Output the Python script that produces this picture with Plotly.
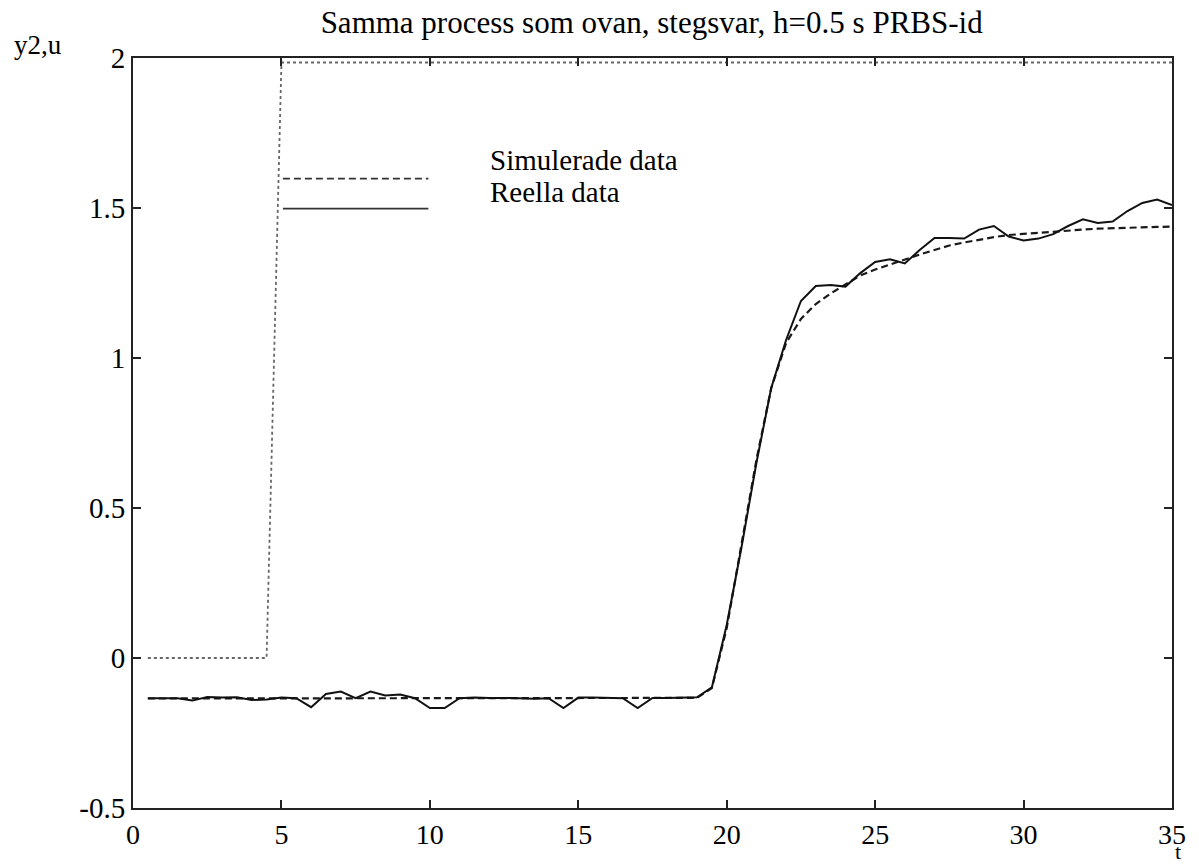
import plotly.graph_objects as go

# Sample times, h = 0.5 s
t = [0.5 * k for k in range(1, 71)]

# Input step u (dotted)
u_t = [0.5, 1.0, 1.5, 2.0, 2.5, 3.0, 3.5, 4.0, 4.5, 5.0, 35.0]
u_val = [0, 0, 0, 0, 0, 0, 0, 0, 0, 1.985, 1.985]

# Measured output (Reella data)
y_real = [
    -0.134, -0.134, -0.134, -0.142, -0.130, -0.132, -0.131, -0.140, -0.138, -0.132,
    -0.134, -0.164, -0.120, -0.112, -0.134, -0.112, -0.125, -0.122, -0.134, -0.167,
    -0.167, -0.134, -0.132, -0.133, -0.133, -0.134, -0.136, -0.134, -0.167, -0.132,
    -0.132, -0.133, -0.134, -0.167, -0.133, -0.133, -0.133, -0.131, -0.098, 0.11,
    0.37, 0.65, 0.90, 1.06, 1.19, 1.24, 1.243, 1.238, 1.283, 1.320,
    1.329, 1.315, 1.360, 1.400, 1.400, 1.398, 1.428, 1.440, 1.405, 1.392,
    1.398, 1.413, 1.440, 1.462, 1.450, 1.455, 1.490, 1.517, 1.528, 1.510,
]

# Simulated output from the identified model (Simulerade data)
y_sim = [
    -0.135, -0.135, -0.135, -0.135, -0.135, -0.135, -0.135, -0.135, -0.135, -0.135,
    -0.135, -0.135, -0.135, -0.135, -0.135, -0.135, -0.135, -0.135, -0.135, -0.135,
    -0.135, -0.135, -0.135, -0.135, -0.135, -0.135, -0.135, -0.135, -0.135, -0.135,
    -0.135, -0.135, -0.135, -0.135, -0.135, -0.135, -0.135, -0.133, -0.100, 0.10,
    0.38, 0.66, 0.90, 1.05, 1.13, 1.18, 1.215, 1.245, 1.275, 1.295,
    1.312, 1.330, 1.345, 1.360, 1.375, 1.385, 1.395, 1.403, 1.410, 1.414,
    1.418, 1.422, 1.425, 1.428, 1.431, 1.433, 1.435, 1.436, 1.437, 1.438,
]

x_ticks = [0, 5, 10, 15, 20, 25, 30, 35]
y_ticks = [-0.5, 0, 0.5, 1, 1.5, 2]
y_tick_text = ["-0.5", "0", "0.5", "1", "1.5", "2"]

legend_names = ["Simulerade data", "Reella data"]

FONT = "Liberation Serif"
INK = "#000000"

fig = go.Figure()
fig.add_trace(go.Scatter(x=u_t, y=u_val, mode="lines",
                         line=dict(color="#666666", width=1.8, dash="dot"),
                         showlegend=False, hoverinfo="skip"))
fig.add_trace(go.Scatter(x=t, y=y_sim, mode="lines", name=legend_names[0],
                         line=dict(color="#1a1a1a", width=2.2, dash="7px,4px"),
                         showlegend=False))
fig.add_trace(go.Scatter(x=t, y=y_real, mode="lines", name=legend_names[1],
                         line=dict(color="#111111", width=2),
                         showlegend=False))

# Hand-drawn legend: line samples with labels to the right
legend_y = [1.598, 1.498]
legend_text_y = [1.66, 1.553]
legend_dash = ["7px,4px", "solid"]
for name, ly, ty, dsh in zip(legend_names, legend_y, legend_text_y, legend_dash):
    fig.add_shape(type="line", xref="x", yref="y", x0=5.05, x1=9.95, y0=ly, y1=ly,
                  line=dict(color="#333333", width=1.6, dash=dsh))
    fig.add_annotation(x=11.95, y=ty, xref="x", yref="y", text=name, showarrow=False,
                       xanchor="left", yanchor="middle",
                       font=dict(family=FONT, size=29, color=INK))

# Axis captions
fig.add_annotation(x=-0.0914, y=1.0173, xref="paper", yref="paper", text="y2,u",
                   showarrow=False, xanchor="center", yanchor="middle",
                   font=dict(family=FONT, size=27, color=INK))
fig.add_annotation(x=35, y=-0.5, xref="x", yref="y", text="t", showarrow=False,
                   xanchor="center", yanchor="middle", yshift=-43, xshift=6,
                   font=dict(family=FONT, size=22, color=INK))

fig.update_layout(
    width=1199, height=865,
    margin=dict(l=133, r=27, t=58, b=57),
    paper_bgcolor="white", plot_bgcolor="white",
    title=dict(text="Samma process som ovan, stegsvar, h=0.5 s PRBS-id",
               x=0.5435, xanchor="center", y=1 - 22 / 865, yanchor="middle",
               font=dict(family=FONT, size=31, color=INK)),
    font=dict(family=FONT, color=INK),
)

fig.update_xaxes(range=[0, 35], tickvals=x_ticks, ticktext=[str(v) for v in x_ticks],
                 showgrid=False, zeroline=False, showline=True, linecolor="#222222",
                 linewidth=2, mirror="ticks", ticks="inside", ticklen=8, tickwidth=1.5,
                 tickcolor="#222222",
                 tickfont=dict(family=FONT, size=28, color=INK))
fig.update_yaxes(range=[-0.5, 2], tickvals=y_ticks, ticktext=y_tick_text,
                 showgrid=False, zeroline=False, showline=True, linecolor="#222222",
                 linewidth=2, mirror="ticks", ticks="inside", ticklen=8, tickwidth=1.5,
                 tickcolor="#222222", tickfont=dict(family=FONT, size=29, color=INK))

fig.write_html("out.html")
